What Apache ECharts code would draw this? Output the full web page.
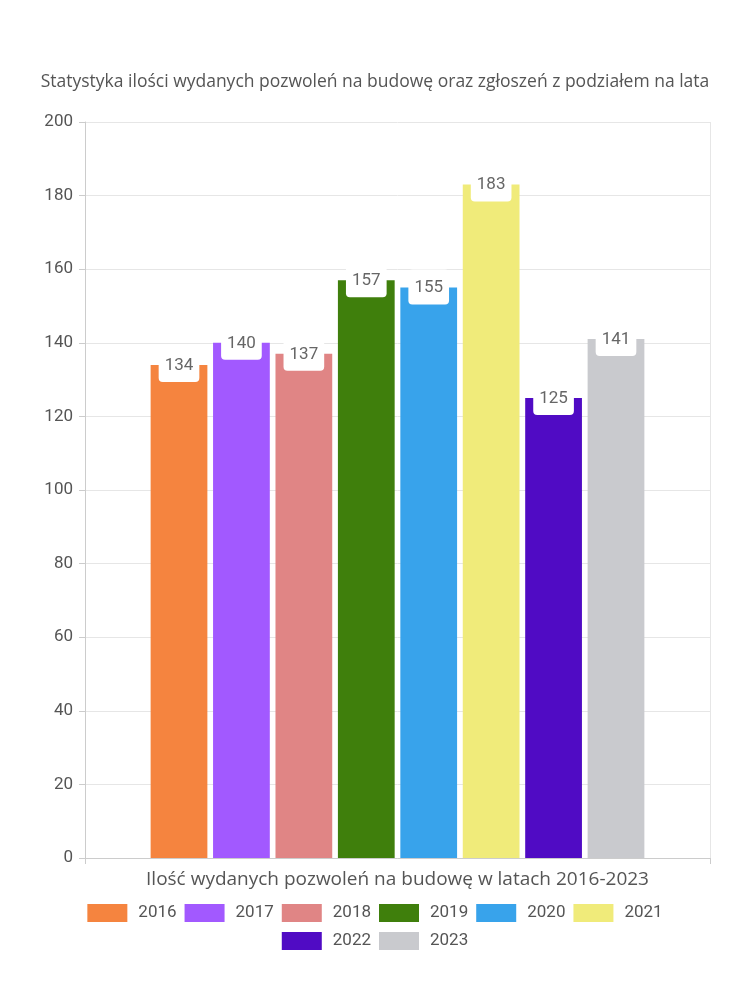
<!DOCTYPE html>
<html><head><meta charset="utf-8">
<script src="https://cdn.jsdelivr.net/npm/echarts@6/dist/echarts.min.js"></script>
<style>html,body{margin:0;padding:0;background:#fff}#c{width:750px;height:1000px}</style>
</head><body><div id="c"></div>
<script>
const title = 'Statystyka ilości wydanych pozwoleń na budowę oraz zgłoszeń z podziałem na lata';
const axisName = 'Ilość wydanych pozwoleń na budowę w latach 2016-2023';
const years = ['2016','2017','2018','2019','2020','2021','2022','2023'];
const values = [134,140,137,157,155,183,125,141];
const colors = ['#F5843F','#A259FF','#E08585','#3F7F0C','#38A3EB','#F0EB7A','#500BC4','#C9CACE'];
const yTicks = [0,20,40,60,80,100,120,140,160,180,200];

const chart = echarts.init(document.getElementById('c'), null, {renderer:'canvas'});
const series = years.map((y,i)=>({
  name: y, type: 'bar', data: [values[i]],
  itemStyle: {color: colors[i]},
  barGap: '10%', barCategoryGap: '21%',
  label: {
    show: true, position: 'insideTop', distance: 0, offset: [0,-18],
    color: '#666', fontFamily: 'Roboto', fontSize: 17,
    backgroundColor: '#fff', borderRadius: 4, padding: [10,6,8,6]
  }
}));
const legendCommon = {
  left: 'center', itemWidth: 40, itemHeight: 18, itemGap: 8, icon: 'rect',
  textStyle: {fontFamily: 'Roboto', fontSize: 17, color: '#555', padding: [0,0,0,6]}
};
chart.setOption({
  animation: false,
  backgroundColor: '#fff',
  title: {text: title, left: 'center', top: 68,
    textStyle: {fontFamily: 'Open Sans', fontWeight: 'normal', fontSize: 17.5, color: '#555'}},
  grid: {left: 85, right: 40, top: 122, bottom: 142},
  legend: [
    Object.assign({top: 899, data: years.slice(0,6)}, legendCommon),
    Object.assign({top: 927, data: years.slice(6)}, legendCommon)
  ],
  xAxis: {
    type: 'category', data: [axisName],
    name: axisName, nameLocation: 'middle', nameGap: 12,
    nameTextStyle: {fontFamily: 'Open Sans', fontSize: 19, color: '#555'},
    axisLabel: {show: false},
    axisLine: {lineStyle: {color: '#ccc'}},
    axisTick: {show: true, length: 6, lineStyle: {color: '#ccc'}},
    splitLine: {show: true, lineStyle: {color: '#e6e6e6'}}
  },
  yAxis: {
    type: 'value', min: 0, max: 200, interval: 20,
    axisLine: {show: true, lineStyle: {color: '#ccc'}},
    axisTick: {show: true, length: 6, lineStyle: {color: '#ccc'}},
    axisLabel: {fontFamily: 'Roboto', fontSize: 17, color: '#555', margin: 12,
      formatter: v => yTicks.includes(v) ? String(v) : ''},
    splitLine: {lineStyle: {color: '#e6e6e6'}}
  },
  series
});
</script></body></html>
